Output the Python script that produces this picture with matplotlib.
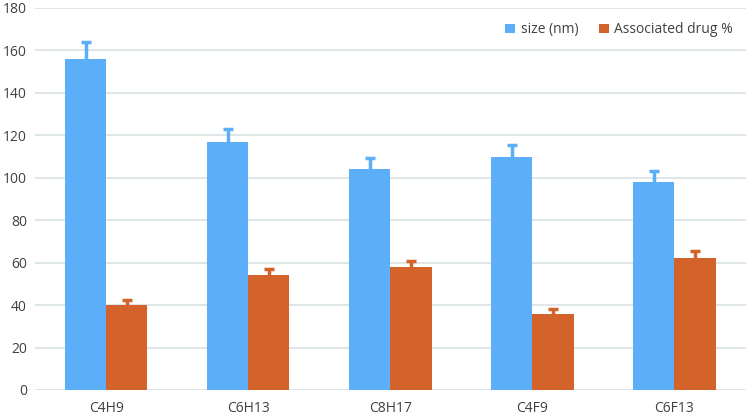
import numpy as np
import matplotlib
matplotlib.use("Agg")
import matplotlib.pyplot as plt

# values
categories = ["C4H9", "C6H13", "C8H17", "C4F9", "C6F13"]
size_nm = [156, 117, 104, 110, 98]
size_err = [8, 6, 5.5, 5.5, 5]
drug_pct = [40, 54, 58, 36, 62]
drug_err = [2.5, 3, 3, 2, 3.5]

plt.rcParams["font.family"] = ["Open Sans", "DejaVu Sans"]

fig = plt.figure(figsize=(7.47, 4.18), dpi=100)
ax = fig.add_axes([0.047, 0.067, 0.951, 0.914])

x = np.arange(len(categories))
w = 0.29
blue = "#5BAEF7"
orange = "#D4622B"

ax.bar(x - w / 2, size_nm, w, color=blue, zorder=2, label="size (nm)")
ax.bar(x + w / 2, drug_pct, w, color=orange, zorder=2, label="Associated drug %")

ax.errorbar(x - w / 2, size_nm, yerr=size_err, fmt="none", ecolor=blue,
            elinewidth=2.5, capsize=3.5, capthick=2.5, zorder=3)
ax.errorbar(x + w / 2, drug_pct, yerr=drug_err, fmt="none", ecolor=orange,
            elinewidth=2.5, capsize=3.5, capthick=2.5, zorder=3)

ax.set_ylim(0, 180)
ax.set_yticks(range(0, 181, 20))
ax.set_xlim(-0.5, len(categories) - 0.5)
ax.set_xticks(x)
ax.set_xticklabels(categories)
ax.yaxis.grid(True, color="#D9E1E6", linewidth=1.2, zorder=0)
ax.set_axisbelow(True)
for s in ax.spines.values():
    s.set_visible(False)
ax.tick_params(axis="both", length=0, labelsize=10, colors="#404040")
ax.tick_params(axis="x", pad=8)
ax.tick_params(axis="y", pad=6)

ax.legend(loc="upper right", bbox_to_anchor=(1.0, 0.995), frameon=False, ncol=2,
          fontsize=10, handlelength=0.7, handleheight=0.7, handletextpad=0.4,
          columnspacing=1.5, labelcolor="#404040")

fig.savefig("out.png", dpi=100)
